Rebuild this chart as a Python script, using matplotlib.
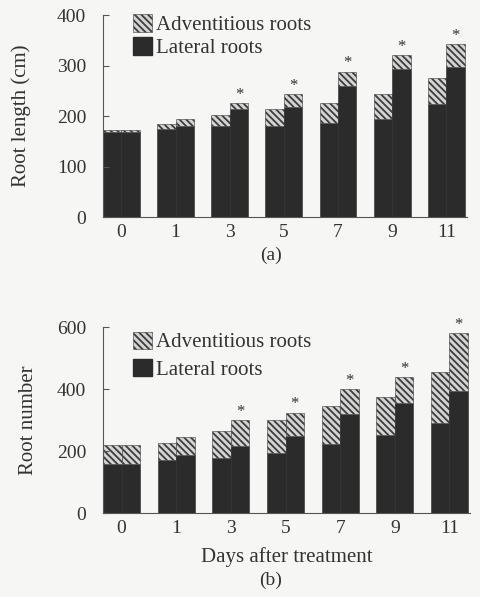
import matplotlib
matplotlib.use('Agg')
import matplotlib.pyplot as plt
from matplotlib.patches import Patch
import numpy as np

plt.rcParams['font.family'] = ['Liberation Serif', 'DejaVu Serif']
plt.rcParams['hatch.linewidth'] = 1.3
plt.rcParams['hatch.color'] = '#3c3c3c'

# data
days = ['0', '1', '3', '5', '7', '9', '11']
sig = [False, False, True, True, True, True, True]

# (a) root length (cm)
len_ctrl_lat = [168, 175, 180, 180, 186, 195, 225]
len_ctrl_adv = [4, 10, 22, 35, 40, 49, 51]
len_trt_lat = [168, 180, 215, 219, 259, 293, 297]
len_trt_adv = [4, 14, 11, 25, 29, 28, 46]

# (b) root number
num_ctrl_lat = [159, 171, 177, 195, 223, 252, 289]
num_ctrl_adv = [61, 54, 86, 105, 122, 121, 166]
num_trt_lat = [159, 188, 216, 249, 318, 354, 394]
num_trt_adv = [61, 58, 84, 75, 81, 85, 187]

bg = '#f6f6f4'
dark = '#2b2b2b'
hatch_face = '#d4d4d4'
txt = '#333333'
HATCH = '\\\\\\\\\\'

fig = plt.figure(figsize=(4.8, 5.97), dpi=100, facecolor=bg)
ax_a = fig.add_axes([0.2146, 0.6365, 0.758, 0.338])
ax_b = fig.add_axes([0.2146, 0.1407, 0.765, 0.3115])


def draw_panel(ax, c_lat, c_adv, t_lat, t_adv, ymax, yticks, ylabel, ylpad,
               legend_y, legend_sp, xlabel=None):
    x = np.arange(len(days))
    w = 0.34
    ax.set_facecolor(bg)
    for off, lat, adv in [(-w / 2, c_lat, c_adv), (w / 2, t_lat, t_adv)]:
        ax.bar(x + off, lat, w, color=dark, edgecolor=dark, linewidth=0.4)
        ax.bar(x + off, adv, w, bottom=lat, color=hatch_face, edgecolor='#3c3c3c',
               linewidth=0.4, hatch=HATCH)
    tops = np.array(t_lat) + np.array(t_adv)
    for i, s in enumerate(sig):
        if s:
            ax.text(x[i] + w / 2, tops[i] + ymax * 0.002, '*', ha='center', va='bottom',
                    fontsize=12, color=txt)
    ax.set_xlim(-0.34, 6.38)
    ax.set_ylim(0, ymax)
    ax.set_yticks(yticks)
    ax.set_xticks(x)
    ax.set_xticklabels(days)
    for s in ['top', 'right']:
        ax.spines[s].set_visible(False)
    for s in ['left', 'bottom']:
        ax.spines[s].set_color('#555555')
        ax.spines[s].set_linewidth(0.8)
    ax.tick_params(axis='y', direction='in', length=4, pad=12, labelsize=14,
                   colors='#555555', labelcolor=txt)
    ax.tick_params(axis='x', length=0, pad=5, labelsize=14, labelcolor=txt)
    ax.set_ylabel(ylabel, fontsize=15, color=txt, labelpad=ylpad)
    handles = [Patch(facecolor=hatch_face, edgecolor='#3c3c3c', hatch=HATCH, linewidth=0.4),
               Patch(facecolor=dark, edgecolor=dark)]
    ax.legend(handles, ['Adventitious roots', 'Lateral roots'], loc='upper left',
              bbox_to_anchor=(0.06, legend_y), frameon=False, fontsize=15,
              handlelength=0.9, handleheight=0.9, handletextpad=0.2,
              labelspacing=legend_sp, borderaxespad=0, labelcolor=txt)
    if xlabel:
        ax.set_xlabel(xlabel, fontsize=15, color=txt, labelpad=7)


draw_panel(ax_a, len_ctrl_lat, len_ctrl_adv, len_trt_lat, len_trt_adv,
           400, [0, 100, 200, 300, 400], 'Root length (cm)', 19, 1.045, 0.1)
draw_panel(ax_b, num_ctrl_lat, num_ctrl_adv, num_trt_lat, num_trt_adv,
           600, [0, 200, 400, 600], 'Root number', 14, 1.02, 0.3, 'Days after treatment')

fig.text(0.5646, 0.572, '(a)', ha='center', va='center', fontsize=14, color=txt)
fig.text(0.5646, 0.028, '(b)', ha='center', va='center', fontsize=14, color=txt)

fig.savefig('out.png', dpi=100, facecolor=bg)
